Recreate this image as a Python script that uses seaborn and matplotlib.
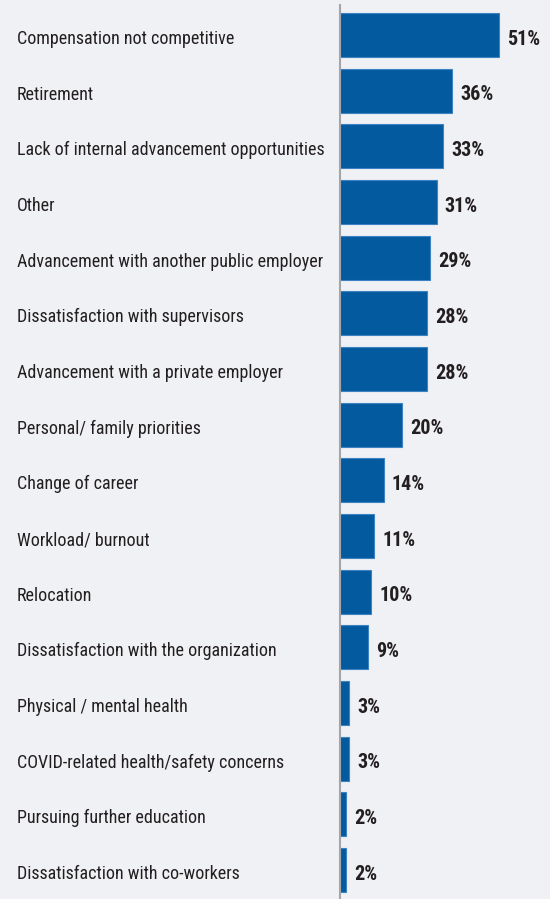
import matplotlib
matplotlib.use("Agg")
import matplotlib.pyplot as plt
import matplotlib.transforms as mtransforms
import seaborn as sns
import pandas as pd
from matplotlib import font_manager

categories = [
    "Compensation not competitive",
    "Retirement",
    "Lack of internal advancement opportunities",
    "Other",
    "Advancement with another public employer",
    "Dissatisfaction with supervisors",
    "Advancement with a private employer",
    "Personal/ family priorities",
    "Change of career",
    "Workload/ burnout",
    "Relocation",
    "Dissatisfaction with the organization",
    "Physical / mental health",
    "COVID-related health/safety concerns",
    "Pursuing further education",
    "Dissatisfaction with co-workers",
]
values = [51, 36, 33, 31, 29, 28, 28, 20, 14, 11, 10, 9, 3, 3, 2, 2]
value_labels = [f"{v}%" for v in values]

names = {f.name for f in font_manager.fontManager.ttflist}
fam = "DejaVu Sans"
for cand in ["Roboto Condensed", "Liberation Sans Narrow", "DejaVu Sans Condensed", "Open Sans Condensed"]:
    if cand in names:
        fam = cand
        break

sns.set_theme(style="white")
plt.rcParams["font.family"] = [fam, "DejaVu Sans"]

BG = "#f0f1f4"
BAR = "#035a9e"
TXT = "#231f20"

df = pd.DataFrame({"cat": categories, "val": values})

fig = plt.figure(figsize=(5.5, 8.99), dpi=100, facecolor=BG)
ax = fig.add_axes([340 / 550, 0, 210 / 550, 894 / 899])
ax.set_facecolor(BG)

sns.barplot(data=df, x="val", y="cat", orient="h", color=BAR, saturation=1,
            width=0.79, edgecolor="#3d82c2", linewidth=0.8, ax=ax)

ax.set_xlim(0, 67.3)
ax.set_ylim(15.52, -0.539)
for s in ["top", "right", "bottom"]:
    ax.spines[s].set_visible(False)
ax.spines["left"].set_color("#a3a5ab")
ax.spines["left"].set_linewidth(1.5)
ax.set_xticks([])
ax.set_yticks([])
ax.set_xlabel("")
ax.set_ylabel("")

base = mtransforms.blended_transform_factory(fig.transFigure, ax.transData)
trans = mtransforms.offset_copy(base, fig=fig, x=0, y=-4, units="dots")
off = mtransforms.offset_copy(ax.transData, fig=fig, x=8, y=-4, units="dots")
for i, (c, v, lab) in enumerate(zip(categories, values, value_labels)):
    ax.text(17 / 550, i, c, transform=trans, ha="left", va="center",
            fontsize=13, color=TXT)
    ax.text(v, i, lab, transform=off, ha="left", va="center",
            fontsize=14.5, fontweight="bold", color=TXT)

fig.savefig("out.png", dpi=100, facecolor=BG)
